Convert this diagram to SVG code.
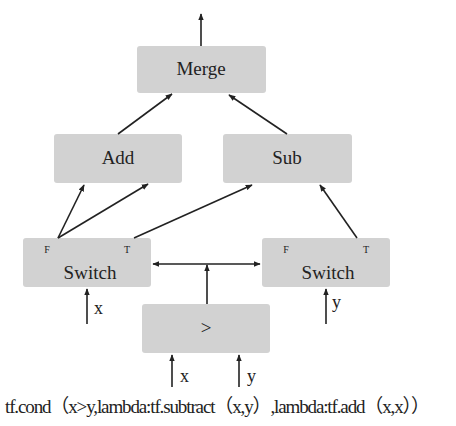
<svg xmlns="http://www.w3.org/2000/svg" width="456" height="426" viewBox="0 0 456 426">
<defs>
<marker id="ah" viewBox="0 0 10 10" refX="9" refY="5" markerWidth="7" markerHeight="7" orient="auto-start-reverse" markerUnits="userSpaceOnUse">
<path d="M0,1 L10,5 L0,9 z" fill="#222"/>
</marker>
<style>
.box{fill:#d2d2d2;}
.lbl{font-family:"Liberation Serif","Times New Roman",serif;font-size:19px;fill:#222;text-anchor:middle;}
.sm{font-family:"Liberation Serif","Times New Roman",serif;font-size:10px;fill:#222;text-anchor:middle;}
.var{font-family:"Liberation Serif","Times New Roman",serif;font-size:18px;fill:#222;}
.cap{font-family:"Liberation Serif","Times New Roman","Noto Sans CJK SC",serif;font-size:19px;fill:#222;}
.ln{stroke:#222;stroke-width:1.6;fill:none;marker-end:url(#ah);}
</style>
</defs>
<rect width="456" height="426" fill="#fff"/>
<g id="merge"><rect class="box" x="137" y="46" width="129" height="47" rx="3"/><text class="lbl" x="201" y="75">Merge</text></g>
<g id="add"><rect class="box" x="54" y="134" width="128" height="49" rx="3"/><text class="lbl" x="118" y="164">Add</text></g>
<g id="sub"><rect class="box" x="223" y="134" width="129" height="49" rx="3"/><text class="lbl" x="287" y="164">Sub</text></g>
<g id="switch1"><rect class="box" x="23" y="238" width="128" height="49" rx="3"/><text class="sm" x="47" y="253">F</text><text class="sm" x="127" y="253">T</text><text class="lbl" x="90" y="279">Switch</text></g>
<g id="switch2"><rect class="box" x="262" y="238" width="128" height="49" rx="3"/><text class="sm" x="286" y="253">F</text><text class="sm" x="366" y="253">T</text><text class="lbl" x="328" y="279">Switch</text></g>
<g id="gt"><rect class="box" x="142" y="304" width="128" height="49" rx="3"/><text class="lbl" x="206" y="334">&gt;</text></g>
<g id="connectors">
<line class="ln" x1="201" y1="46" x2="201" y2="14"/>
<line class="ln" x1="118" y1="134" x2="172" y2="94"/>
<line class="ln" x1="287" y1="134" x2="229" y2="95"/>
<line class="ln" x1="58" y1="238" x2="84" y2="185"/>
<line class="ln" x1="58" y1="238" x2="148" y2="184"/>
<line class="ln" x1="134" y1="238" x2="252" y2="185"/>
<line class="ln" x1="357" y1="238" x2="320" y2="185"/>
<line class="ln" x1="153" y1="264" x2="260" y2="264" style="marker-start:url(#ah)"/>
<line class="ln" x1="207" y1="304" x2="207" y2="265"/>
<line class="ln" x1="87" y1="324" x2="87" y2="289"/>
<line class="ln" x1="326" y1="324" x2="326" y2="289"/>
<line class="ln" x1="172" y1="387" x2="172" y2="355"/>
<line class="ln" x1="239" y1="387" x2="239" y2="355"/>
</g>
<text class="var" x="94" y="314">x</text>
<text class="var" x="332" y="308">y</text>
<text class="var" x="180" y="382">x</text>
<text class="var" x="247" y="382">y</text>
<text class="cap" x="5" y="413" textLength="425" lengthAdjust="spacing">tf.cond（x&gt;y,lambda:tf.subtract（x,y）,lambda:tf.add（x,x））</text>
</svg>
